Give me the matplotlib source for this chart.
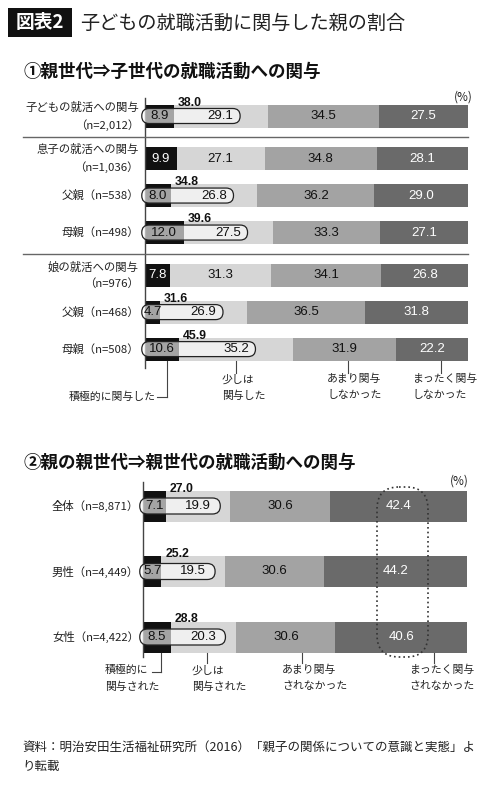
import matplotlib

matplotlib.use("Agg")
import matplotlib.pyplot as plt  # noqa: E402
from matplotlib.patches import FancyBboxPatch, Rectangle  # noqa: E402

plt.rcParams["font.family"] = ["Noto Sans CJK JP", "DejaVu Sans"]
NUM_FONT = ["Liberation Sans", "DejaVu Sans"]
SUM_FONT = ["Liberation Sans Narrow", "Liberation Sans", "DejaVu Sans"]

W, H = 500, 800
COLORS = ["#111111", "#d6d6d6", "#a3a3a3", "#6a6a6a"]
TEXT_COLORS = ["white", "#111111", "#111111", "white"]
INK = "#222222"

# ---- data: (1) parent -> child ----
top_labels = [
    "子どもの就活への関与\n（n=2,012）",
    "息子の就活への関与\n（n=1,036）",
    "父親（n=538）",
    "母親（n=498）",
    "娘の就活への関与\n（n=976）",
    "父親（n=468）",
    "母親（n=508）",
]
top_group = [0, 1, 1, 1, 2, 2, 2]
top_active = [8.9, 9.9, 8.0, 12.0, 7.8, 4.7, 10.6]
top_some = [29.1, 27.1, 26.8, 27.5, 31.3, 26.9, 35.2]
top_little = [34.5, 34.8, 36.2, 33.3, 34.1, 36.5, 31.9]
top_none = [27.5, 28.1, 29.0, 27.1, 26.8, 31.8, 22.2]
top_total = [38.0, None, 34.8, 39.6, None, 31.6, 45.9]
top_legend = ["積極的に関与した", "少しは\n関与した", "あまり関与\nしなかった", "まったく関与\nしなかった"]

# ---- data: (2) grandparent -> parent ----
bottom_labels = ["全体（n=8,871）", "男性（n=4,449）", "女性（n=4,422）"]
bottom_active = [7.1, 5.7, 8.5]
bottom_some = [19.9, 19.5, 20.3]
bottom_little = [30.6, 30.6, 30.6]
bottom_none = [42.4, 44.2, 40.6]
bottom_total = [27.0, 25.2, 28.8]
bottom_legend = ["積極的に\n関与された", "少しは\n関与された", "あまり関与\nされなかった", "まったく関与\nされなかった"]

source_note = "資料：明治安田生活福祉研究所（2016）「親子の関係についての意識と実態」よ\nり転載"


def make_panel(fig, left, right, top, bottom, row0, row_px):
    ax = fig.add_axes([left / W, 1 - bottom / H, (right - left) / W, (bottom - top) / H])
    ax.set_xlim(0, 100)
    ax.set_ylim((bottom - row0) / row_px, (top - row0) / row_px)
    ax.axis("off")
    px_x = (right - left) / 100.0

    def fx(px):
        return (px - left) / px_x

    def fy(py):
        return (py - row0) / row_px

    return ax, fx, fy, px_x


def draw_bars(ax, pos, labels, segs, totals, bar_h, box_h, box_pad, px_x, row_px, label_x):
    lefts = [0.0] * len(pos)
    for k, vals in enumerate(segs):
        ax.barh(pos, vals, left=lefts, height=bar_h, color=COLORS[k], linewidth=0, zorder=1)
        for i, v in enumerate(vals):
            boxed = totals[i] is not None and k < 2
            ax.text(lefts[i] + v / 2, pos[i], f"{v:.1f}", ha="center", va="center",
                    color="#111111" if boxed else TEXT_COLORS[k],
                    fontsize=9.5, family=NUM_FONT, zorder=4)
        lefts = [a + b for a, b in zip(lefts, vals)]

    aspect = px_x / row_px
    for i, total in enumerate(totals):
        if total is None:
            continue
        right = segs[0][i] + segs[1][i] / 2 + box_pad
        box = FancyBboxPatch(
            (-1, pos[i] - box_h / 2), right + 1, box_h,
            boxstyle=f"round,pad=0,rounding_size={0.49 * box_h * row_px / px_x:.3f}",
            mutation_aspect=aspect, facecolor=(1, 1, 1, 0.62), edgecolor=INK,
            linewidth=0.9, zorder=3, clip_on=False)
        ax.add_patch(box)
        ax.text(segs[0][i] + 1.2, pos[i] - bar_h / 2 + 1.0 / row_px, f"{total:.1f}",
                ha="left", va="baseline", fontsize=8.8, fontweight="bold",
                family=SUM_FONT, color="#111111", zorder=4)

    for p, lab in zip(pos, labels):
        ax.text(label_x, p, lab, ha="right", va="center", multialignment="right",
                fontsize=8.2, color=INK, linespacing=1.65, clip_on=False)


def draw_legend(ax, labels, line_x, bar_bottom, line_end, elbow_x, text_x, text_top, first_ha):
    for k, (lx, lab) in enumerate(zip(line_x, labels)):
        ax.plot([lx, lx], [bar_bottom, line_end[k]], color="#444444", lw=0.8, clip_on=False)
        if k == 0:
            ax.plot([lx, elbow_x], [line_end[k], line_end[k]], color="#444444", lw=0.8,
                    clip_on=False)
        ax.text(text_x[k], text_top[k], lab, ha=first_ha if k == 0 else "left", va="top",
                multialignment="left", fontsize=7.8, color=INK, linespacing=1.75,
                clip_on=False)


fig = plt.figure(figsize=(W / 100, H / 100), dpi=100)


def ftext(x, y, s, **kw):
    fig.text(x / W, 1 - y / H, s, **kw)


# ---- headings ----
fig.add_artist(Rectangle((8 / W, 1 - 37 / H), 64 / W, 29 / H, transform=fig.transFigure,
                         facecolor="#111111", edgecolor="none"))
ftext(40, 23, "図表2", ha="center", va="center", color="white", fontsize=13.5,
      fontweight="bold")
ftext(80, 23, "子どもの就職活動に関与した親の割合", ha="left", va="center",
      color=INK, fontsize=13.8)
ftext(24, 72, "①親世代⇒子世代の就職活動への関与", ha="left", va="center",
      color="#111111", fontsize=12.6, fontweight="bold")
ftext(24, 463, "②親の親世代⇒親世代の就職活動への関与", ha="left", va="center",
      color="#111111", fontsize=12.6, fontweight="bold")

# ---- panel 1 ----
ax1, fx1, fy1, pxx1 = make_panel(fig, 145, 468, 80, 415, 116, 37)
pos1 = [i + 0.15 * g for i, g in enumerate(top_group)]
draw_bars(ax1, pos1, top_labels, [top_active, top_some, top_little, top_none], top_total,
          bar_h=23 / 37, box_h=15 / 37, box_pad=6.0, px_x=pxx1, row_px=37,
          label_x=fx1(139))
ax1.plot([0, 0], [pos1[0] - 0.5, pos1[-1] + 0.5], color="#444444", lw=1, clip_on=False)
for a, b, ga, gb in zip(pos1[:-1], pos1[1:], top_group[:-1], top_group[1:]):
    if ga != gb:
        ax1.plot([fx1(23), 100], [(a + b) / 2] * 2, color="#666666", lw=1, clip_on=False)
ftext(463, 97, "(%)", ha="center", va="center", fontsize=8.5, color=INK)
bb1 = pos1[-1] + 23 / 37 / 2
draw_legend(ax1, top_legend,
            line_x=[fx1(167), fx1(236), fx1(348), fx1(441)],
            bar_bottom=bb1,
            line_end=[fy1(397), fy1(373), fy1(373), fy1(373)],
            elbow_x=fx1(157),
            text_x=[fx1(156), fx1(222), fx1(327), fx1(412)],
            text_top=[fy1(391), fy1(374), fy1(374), fy1(374)],
            first_ha="right")

# ---- panel 2 ----
ax2, fx2, fy2, pxx2 = make_panel(fig, 143, 467, 475, 700, 506, 65.5)
pos2 = list(range(len(bottom_labels)))
draw_bars(ax2, pos2, bottom_labels, [bottom_active, bottom_some, bottom_little, bottom_none],
          bottom_total, bar_h=31 / 65.5, box_h=16 / 65.5, box_pad=6.8, px_x=pxx2,
          row_px=65.5, label_x=fx2(139))
ax2.plot([0, 0], [pos2[0] - 0.37, pos2[-1] + 0.3], color="#444444", lw=1, clip_on=False)
ftext(459, 481, "(%)", ha="center", va="center", fontsize=8.5, color=INK)
ring = FancyBboxPatch((fx2(377), fy2(487)), fx2(428) - fx2(377), fy2(657) - fy2(487),
                      boxstyle=f"round,pad=0,rounding_size={22 / pxx2:.3f}",
                      mutation_aspect=pxx2 / 65.5, fill=False, edgecolor="#333333",
                      linestyle=(0, (1, 1.8)), linewidth=1.2, zorder=5, clip_on=False)
ax2.add_patch(ring)
bb2 = pos2[-1] + 31 / 65.5 / 2
draw_legend(ax2, bottom_legend,
            line_x=[fx2(161), fx2(207), fx2(302), fx2(434)],
            bar_bottom=bb2,
            line_end=[fy2(672), fy2(663), fy2(663), fy2(663)],
            elbow_x=fx2(152),
            text_x=[fx2(105), fx2(192), fx2(282), fx2(409)],
            text_top=[fy2(665), fy2(665), fy2(665), fy2(665)],
            first_ha="left")

# ---- footer ----
ftext(22, 757, source_note, ha="left", va="center", fontsize=9, color=INK, linespacing=1.65)

fig.savefig("out.png", dpi=100)
plt.close(fig)
